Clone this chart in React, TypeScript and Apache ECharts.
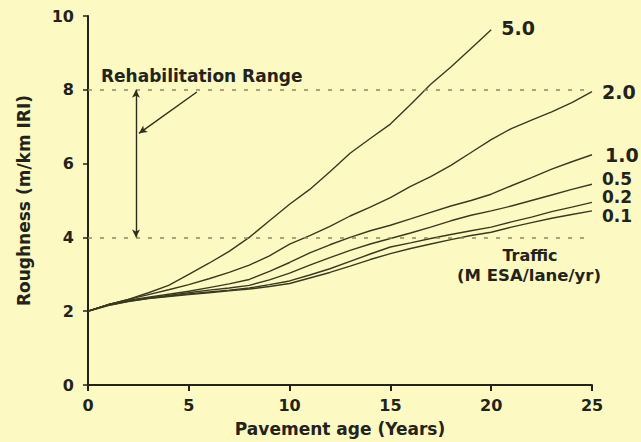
import React, { useEffect, useRef } from "react";
import * as echarts from "echarts";

// Pavement age (years)
const years = [0, 1, 2, 3, 4, 5, 6, 7, 8, 9, 10, 11, 12, 13, 14, 15, 16, 17, 18, 19, 20, 21, 22, 23, 24, 25];

// Roughness (m/km IRI) for each traffic level (M ESA/lane/yr)
const rough50 = [2, 2.18, 2.32, 2.5, 2.7, 3.0, 3.3, 3.62, 4.0, 4.45, 4.9, 5.3, 5.78, 6.28, 6.68, 7.07, 7.6, 8.15, 8.62, 9.12, 9.63];
const rough20 = [2, 2.18, 2.32, 2.45, 2.58, 2.72, 2.88, 3.05, 3.25, 3.5, 3.82, 4.05, 4.3, 4.58, 4.82, 5.08, 5.38, 5.65, 5.95, 6.3, 6.65, 6.95, 7.18, 7.4, 7.65, 7.95];
const rough10 = [2, 2.18, 2.3, 2.38, 2.46, 2.54, 2.64, 2.74, 2.86, 3.08, 3.32, 3.58, 3.8, 4.0, 4.18, 4.33, 4.5, 4.68, 4.85, 5.0, 5.17, 5.4, 5.62, 5.85, 6.05, 6.24];
const rough05 = [2, 2.17, 2.28, 2.36, 2.43, 2.5, 2.57, 2.63, 2.7, 2.85, 3.03, 3.25, 3.45, 3.65, 3.82, 3.97, 4.12, 4.28, 4.45, 4.6, 4.72, 4.85, 5.0, 5.15, 5.3, 5.44];
const rough02 = [2, 2.16, 2.27, 2.35, 2.41, 2.47, 2.52, 2.57, 2.63, 2.72, 2.82, 2.98, 3.15, 3.35, 3.55, 3.74, 3.85, 3.97, 4.08, 4.18, 4.28, 4.42, 4.55, 4.7, 4.82, 4.95];
const rough01 = [2, 2.15, 2.26, 2.34, 2.4, 2.45, 2.5, 2.55, 2.6, 2.67, 2.75, 2.9, 3.05, 3.22, 3.4, 3.56, 3.7, 3.82, 3.94, 4.05, 4.14, 4.28, 4.4, 4.52, 4.62, 4.72];

const trafficLabels = ["5.0", "2.0", "1.0", "0.5", "0.2", "0.1"];
const roughSeries = [rough50, rough20, rough10, rough05, rough02, rough01];

// Rehabilitation range limits
const rehabUpper = 8;
const rehabLower = 4;
const rehabEndX = 24.8;

const FONT = "DejaVu Sans";
const INK = "#23231a";
const LINE = "#3a3a20";
const BG = "#fcf9c2";

export default function App() {
  const ref = useRef<HTMLDivElement>(null);

  useEffect(() => {
    if (!ref.current) return;
    const chart = echarts.init(ref.current, undefined, { renderer: "svg" });

    const labelOffsets: Record<string, number[]> = {
      "5.0": [0, -2],
      "2.0": [0, 0],
      "1.0": [3, 0],
      "0.5": [0, -5.5],
      "0.2": [0, -5],
      "0.1": [0, 5.5],
    };

    const lineSeries = roughSeries.map((vals, i) => ({
      name: trafficLabels[i],
      type: "line",
      data: vals.map((v, j) => [years[j], v]),
      symbol: "none",
      smooth: false,
      lineStyle: { color: LINE, width: 1.4 },
      silent: true,
      labelLayout: { hideOverlap: false, moveOverlap: null },
      endLabel: {
        show: true,
        formatter: trafficLabels[i],
        distance: 10,
        offset: labelOffsets[trafficLabels[i]],
        color: INK,
        fontFamily: FONT,
        fontWeight: "bold",
        fontSize: i >= 3 ? 17 : 19,
        lineHeight: 15,
        padding: 0,
      },
      z: 3,
    }));

    const annot = {
      type: "line",
      data: [],
      silent: true,
      markLine: {
        silent: true,
        animation: false,
        label: { show: false },
        data: [
          [
            { coord: [0, rehabUpper], symbol: "none" },
            { coord: [rehabEndX, rehabUpper], symbol: "none" },
          ],
          [
            { coord: [0, rehabLower], symbol: "none" },
            { coord: [rehabEndX, rehabLower], symbol: "none" },
          ],
        ],
        lineStyle: { color: "#8c8a62", width: 1.6, type: [4, 8] },
      },
      z: 2,
    };

    const arrows = {
      type: "line",
      data: [],
      silent: true,
      markLine: {
        silent: true,
        animation: false,
        label: { show: false },
        symbolSize: [6, 8],
        data: [
          [
            { coord: [2.38, rehabUpper], symbol: "arrow" },
            { coord: [2.38, rehabLower], symbol: "arrow" },
          ],
          [
            { coord: [5.4, 7.94], symbol: "none" },
            { coord: [2.53, 6.82], symbol: "arrow" },
          ],
        ],
        lineStyle: { color: "#2e2e1e", width: 1.4, type: "solid" },
      },
      z: 4,
    };

    chart.setOption({
      animation: false,
      backgroundColor: BG,
      grid: { left: 88, right: 49, top: 16, bottom: 52, containLabel: false },
      xAxis: {
        type: "value",
        min: 0,
        max: 25,
        interval: 5,
        name: "Pavement age (Years)",
        nameLocation: "middle",
        nameGap: 35,
        nameTextStyle: { color: INK, fontFamily: FONT, fontWeight: "bold", fontSize: 17 },
        axisLine: { lineStyle: { color: INK, width: 2 } },
        axisTick: { show: true, length: 6, lineStyle: { color: INK, width: 2 } },
        axisLabel: { color: INK, fontFamily: FONT, fontWeight: "bold", fontSize: 16, margin: 12 },
        splitLine: { show: false },
      },
      yAxis: {
        type: "value",
        min: 0,
        max: 10,
        interval: 2,
        name: "Roughness (m/km IRI)",
        nameLocation: "middle",
        nameGap: 56,
        nameTextStyle: { color: INK, fontFamily: FONT, fontWeight: "bold", fontSize: 17 },
        axisLine: { show: true, lineStyle: { color: INK, width: 2 } },
        axisTick: { show: true, length: 5, lineStyle: { color: INK, width: 1.5 } },
        axisLabel: { color: INK, fontFamily: FONT, fontWeight: "bold", fontSize: 16, margin: 14 },
        splitLine: { show: false },
      },
      graphic: [
        {
          type: "text",
          left: 101,
          top: 67,
          style: {
            text: "Rehabilitation Range",
            fill: INK,
            font: `bold 17px "${FONT}"`,
          },
        },
        {
          type: "text",
          x: 530,
          y: 255,
          style: {
            text: "Traffic",
            fill: INK,
            font: `bold 16px "${FONT}"`,
            align: "center",
            verticalAlign: "middle",
          },
        },
        {
          type: "text",
          x: 529,
          y: 275,
          style: {
            text: "(M ESA/lane/yr)",
            fill: INK,
            font: `bold 16.5px "${FONT}"`,
            align: "center",
            verticalAlign: "middle",
          },
        },
      ],
      series: [annot, ...lineSeries, arrows],
    });

    return () => chart.dispose();
  }, []);

  return (
    <div
      ref={ref}
      style={{ position: "fixed", left: 0, top: 0, width: 641, height: 442, background: BG }}
    />
  );
}
